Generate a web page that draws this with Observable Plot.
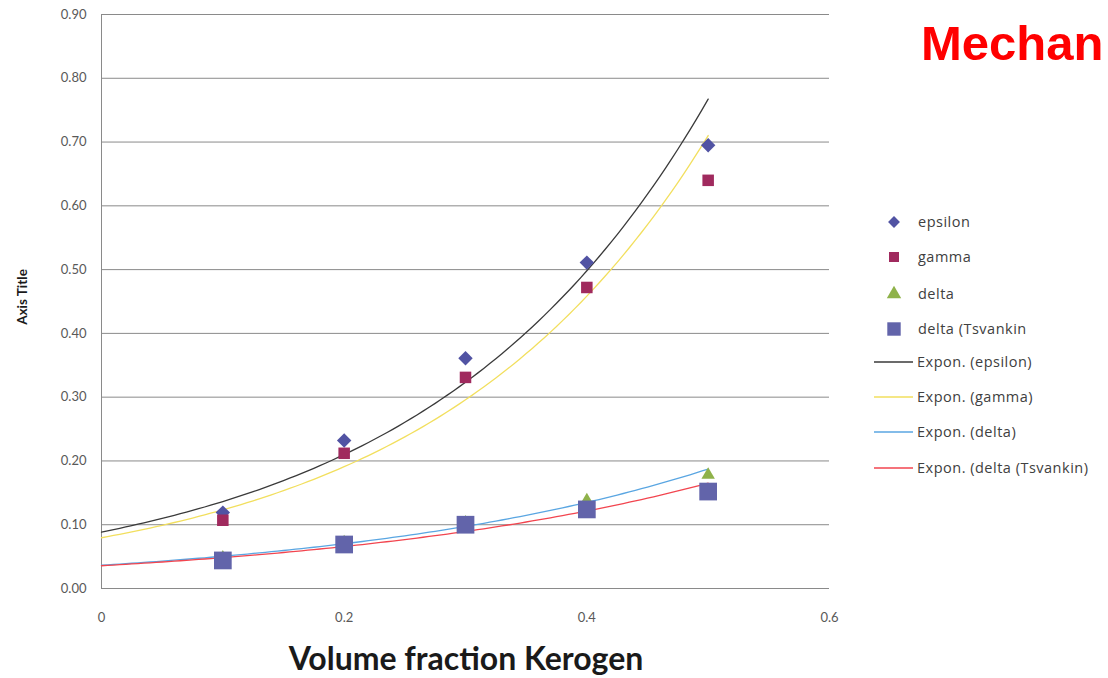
<!DOCTYPE html>
<html><head><meta charset="utf-8">
<script src="https://cdn.jsdelivr.net/npm/d3@7"></script>
<script src="https://cdn.jsdelivr.net/npm/@observablehq/plot@0.6"></script>
<style>
body{margin:0;background:#fff;overflow:hidden}
#chart{position:relative;width:1108px;height:678px;overflow:hidden}
</style>
</head><body><div id="chart"></div>
<script>
// Data
const fractions = [0.1, 0.2, 0.3, 0.4, 0.5];
const epsilon   = [0.119, 0.232, 0.361, 0.511, 0.695];
const gamma     = [0.107, 0.212, 0.331, 0.472, 0.640];
const delta     = [0.048, 0.072, 0.103, 0.138, 0.178];
const deltaTsv  = [0.044, 0.069, 0.100, 0.124, 0.152];
const yTicks = [0, 0.1, 0.2, 0.3, 0.4, 0.5, 0.6, 0.7, 0.8, 0.9];
const xTicks = [0, 0.2, 0.4, 0.6];
const seriesNames = ["epsilon", "gamma", "delta", "delta (Tsvankin"];
const trendNames = ["Expon. (epsilon)", "Expon. (gamma)", "Expon. (delta)", "Expon. (delta (Tsvankin)"];
const markerColors = ["#5153a3", "#a02a5e", "#8fb24a", "#6264aa"];
const trendColors = ["#3a3a3a", "#f2df5e", "#5aa6e2", "#f2454f"];

// Excel-style exponential trendline (least squares on ln y), sampled over 0..0.5
function expFit(xs, ys) {
  const ly = ys.map(Math.log);
  const mx = d3.mean(xs), my = d3.mean(ly);
  const b = d3.sum(xs, (x, i) => (x - mx) * (ly[i] - my)) / d3.sum(xs, x => (x - mx) ** 2);
  const a = Math.exp(my - b * mx);
  return d3.range(0, 0.5001, 0.005).map(x => ({x, y: a * Math.exp(b * x)}));
}
const allSeries = [epsilon, gamma, delta, deltaTsv];
const pts = s => fractions.map((x, i) => ({x, y: allSeries[s][i]}));

const plot = Plot.plot({
  width: 1108, height: 678,
  marginLeft: 101, marginRight: 279, marginTop: 14, marginBottom: 90,
  style: {fontFamily: "Lato, 'Open Sans', sans-serif", fontSize: "13px", color: "#595959", background: "#fff"},
  x: {domain: [0, 0.6]},
  y: {domain: [0, 0.9]},
  marks: [
    Plot.gridY(yTicks, {stroke: "#8a8a8a", strokeOpacity: 1}),
    Plot.ruleX([0], {stroke: "#8a8a8a"}),
    Plot.axisY({ticks: yTicks, tickFormat: d3.format(".2f"), tickSize: 0, tickPadding: 15, label: null, fill: "#595959"}),
    Plot.axisX({ticks: xTicks, tickFormat: d3.format("~g"), tickSize: 0, tickPadding: 24, label: null, fill: "#595959"}),
    ...[0, 1, 2, 3].map(s => Plot.line(expFit(fractions, allSeries[s]), {x: "x", y: "y", stroke: trendColors[s], strokeWidth: 1.3})),
    Plot.dot(pts(0), {x: "x", y: "y", symbol: "diamond2", r: 6.5, fill: markerColors[0]}),
    Plot.dot(pts(1), {x: "x", y: "y", symbol: "square", r: 6.5, fill: markerColors[1]}),
    Plot.dot(pts(2), {x: "x", y: "y", symbol: "triangle", r: 5, fill: markerColors[2]}),
    Plot.dot(pts(3), {x: "x", y: "y", symbol: "square", r: 10, fill: markerColors[3]})
  ]
});
document.getElementById("chart").appendChild(plot);

const svg = d3.select(plot);
// Axis titles
svg.append("text").attr("x", 466).attr("y", 670).attr("text-anchor", "middle")
  .attr("font-family", "Lato, sans-serif").attr("font-weight", "bold").attr("font-size", 32)
  .attr("fill", "#1a1a1a").text("Volume fraction Kerogen");
svg.append("text").attr("transform", "translate(27,297) rotate(-90)").attr("text-anchor", "middle")
  .attr("font-family", "Lato, sans-serif").attr("font-weight", "bold").attr("font-size", 13.5)
  .attr("fill", "#1a1a1a").text("Axis Title");
// Red heading at the top right
svg.append("text").attr("x", 921).attr("y", 60).attr("text-anchor", "start")
  .attr("font-family", "'Liberation Sans', Arial, sans-serif").attr("font-weight", "bold").attr("font-size", 49)
  .attr("fill", "#ff0000").text("Mechan");

// Legend
const lg = svg.append("g").attr("font-family", "'Open Sans', sans-serif").attr("font-size", 14.5)
  .attr("letter-spacing", "0.5px").attr("fill", "#404040").attr("text-anchor", "start");
const rows = [222, 257, 294, 329, 362, 397, 432, 468];
const syms = [d3.symbolDiamond2, d3.symbolSquare, d3.symbolTriangle, d3.symbolSquare];
const sizes = [90, 100, 90, 180];
seriesNames.forEach((n, i) => {
  lg.append("path").attr("transform", `translate(894,${rows[i]})`).attr("d", d3.symbol(syms[i], sizes[i])()).attr("fill", markerColors[i]);
  lg.append("text").attr("x", 918).attr("y", rows[i]).attr("dy", "0.35em").text(n);
});
trendNames.forEach((n, i) => {
  const y = rows[i + 4];
  lg.append("line").attr("x1", 874).attr("x2", 913).attr("y1", y).attr("y2", y).attr("stroke", trendColors[i]).attr("stroke-width", 1.5);
  lg.append("text").attr("x", 917).attr("y", y).attr("dy", "0.35em").text(n);
});
</script>
</body></html>
